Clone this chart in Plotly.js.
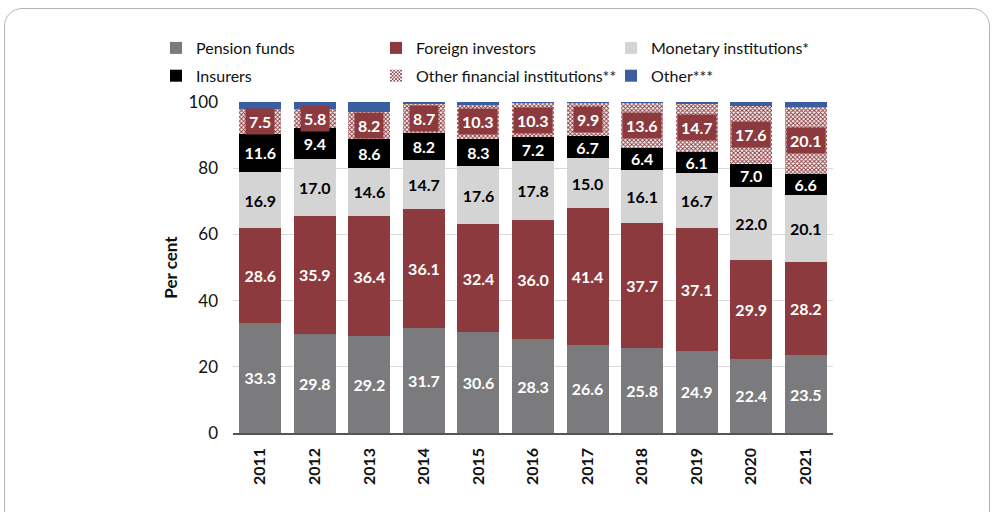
<!DOCTYPE html>
<html><head><meta charset="utf-8">
<script src="https://cdn.plot.ly/plotly-3.0.1.min.js"></script>
<style>
html,body{margin:0;padding:0;background:#fff;}
#wrap{position:relative;width:993px;height:512px;overflow:hidden;}
#chart{width:993px;height:512px;}
#frame{position:absolute;left:4px;top:8px;width:984px;height:530px;border:1px solid #b5b5b5;border-radius:18px;pointer-events:none;}
</style></head>
<body>
<div id="wrap"><div id="chart"></div><div id="frame"></div></div>
<script>
const years = ["2011","2012","2013","2014","2015","2016","2017","2018","2019","2020","2021"];
const pension   = [33.3,29.8,29.2,31.7,30.6,28.3,26.6,25.8,24.9,22.4,23.5];
const foreign   = [28.6,35.9,36.4,36.1,32.4,36.0,41.4,37.7,37.1,29.9,28.2];
const monetary  = [16.9,17.0,14.6,14.7,17.6,17.8,15.0,16.1,16.7,22.0,20.1];
const insurers  = [11.6,9.4,8.6,8.2,8.3,7.2,6.7,6.4,6.1,7.0,6.6];
const otherFin  = [7.5,5.8,8.2,8.7,10.3,10.3,9.9,13.6,14.7,17.6,20.1];
const other     = [2.1,2.1,3.0,0.6,0.8,0.4,0.4,0.4,0.5,1.1,1.5];

const FONT = "Lato, 'Open Sans', sans-serif";
const cGray = "#7b7b7d", cRed = "#8c3a3d", cLight = "#d4d4d4", cBlack = "#000000", cBlue = "#3b5ea1";

function barTrace(name, y, color, txtColor, legend, showText) {
  const t = {
    type: "bar", name: name, x: years, y: y,
    marker: {color: color, line: {width: 0}},
    legend: legend, legendgroup: name,
    hoverinfo: "x+y+name"
  };
  if (showText) {
    t.text = y.map(v => v.toFixed(1));
    t.textposition = "inside";
    t.insidetextanchor = "middle";
    t.textangle = 0;
    t.constraintext = "none";
    t.textfont = {family: FONT, size: 16, color: txtColor, weight: 700};
  } else {
    t.textposition = "none";
  }
  return t;
}

const tOF = barTrace("Other financial institutions**", otherFin, cRed, "#fff", "legend2", false);
tOF.marker = {color: "#ffffff", pattern: {shape: "x", fgcolor: cRed, bgcolor: "#ffffff", size: 3, solidity: 0.55}, line: {width: 0}};

const data = [
  barTrace("Pension funds", pension, cGray, "#fff", "legend", true),
  barTrace("Foreign investors", foreign, cRed, "#fff", "legend2", true),
  barTrace("Monetary institutions*", monetary, cLight, "#000", "legend3", true),
  barTrace("Insurers", insurers, cBlack, "#fff", "legend", true),
  tOF,
  barTrace("Other***", other, cBlue, "#fff", "legend3", false)
];

const annotations = years.map((yr, i) => ({
  x: i, xref: "x", yref: "y",
  y: pension[i] + foreign[i] + monetary[i] + insurers[i] + otherFin[i] / 2,
  text: otherFin[i].toFixed(1), showarrow: false,
  font: {family: FONT, size: 16, color: "#fff", weight: 700},
  bgcolor: cRed, borderpad: 3
}));

const legBase = {
  orientation: "v", xref: "paper", yref: "paper", xanchor: "left", yanchor: "top",
  font: {family: FONT, size: 16, color: "#111"}, bgcolor: "rgba(0,0,0,0)",
  tracegroupgap: 4, itemwidth: 30, traceorder: "grouped"
};
const plotW = 993 - 233 - 160, plotH = 512 - 102 - 79;
function lx(px) { return (px - 233) / plotW; }
function ly(py) { return (433 - py) / plotH; }

const layout = {
  width: 993, height: 512,
  margin: {l: 233, r: 160, t: 102, b: 79},
  paper_bgcolor: "#fff", plot_bgcolor: "#fff",
  barmode: "stack", bargap: 0.23,
  font: {family: FONT},
  xaxis: {
    type: "category", tickangle: -90, range: [-0.5, years.length - 0.5],
    tickfont: {family: FONT, size: 16, color: "#111", weight: 700},
    showline: true, linecolor: "#555", linewidth: 1.5,
    ticks: "", showgrid: false, ticklabelstandoff: 7
  },
  yaxis: {
    range: [0, 100], dtick: 20, tick0: 0,
    tickfont: {family: FONT, size: 17, color: "#111"},
    showgrid: true, gridcolor: "#d9d9d9", gridwidth: 1,
    zeroline: false, showline: false, ticks: "", ticklabelstandoff: 14,
    title: {text: "Per cent", font: {family: FONT, size: 17, color: "#111", weight: 700}, standoff: 6}
  },
  legend:  Object.assign({}, legBase, {x: lx(156), y: ly(31)}),
  legend2: Object.assign({}, legBase, {x: lx(376), y: ly(31)}),
  legend3: Object.assign({}, legBase, {x: lx(611), y: ly(31)}),
  annotations: annotations,
  showlegend: true
};

Plotly.newPlot("chart", data, layout, {displayModeBar: false, staticPlot: true});
</script>
</body></html>
